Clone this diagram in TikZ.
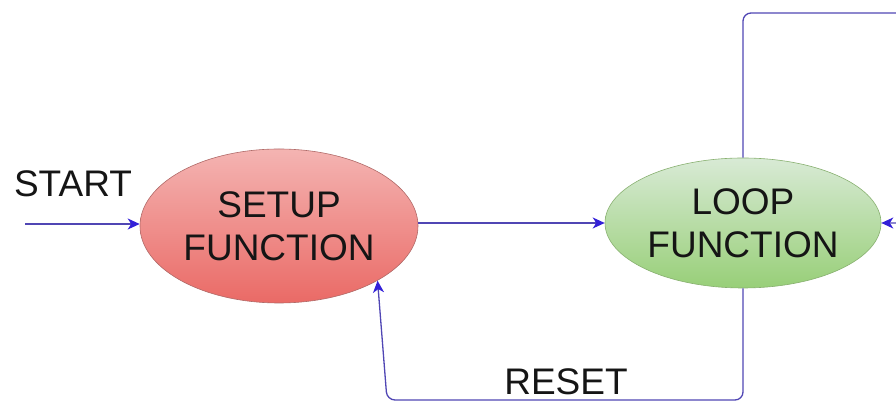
\documentclass[tikz,border=0pt]{standalone}
\usepackage{fontspec}
\setmainfont{Liberation Sans}
\usetikzlibrary{arrows.meta,shapes.geometric}
\definecolor{linec}{HTML}{5046B4}
\definecolor{arrowc}{HTML}{3320D8}
\definecolor{txtc}{HTML}{151515}
\definecolor{redtop}{HTML}{F4B4B2}
\definecolor{redbot}{HTML}{EA6A66}
\definecolor{redline}{HTML}{B06A68}
\definecolor{grntop}{HTML}{D8EAD5}
\definecolor{grnbot}{HTML}{98CF78}
\definecolor{grnline}{HTML}{88B070}
\tikzset{
  bigfont/.style={font=\fontsize{37}{43}\selectfont, text=txtc},
  state/.style={ellipse, inner sep=0pt, align=center, bigfont, line width=0.6pt},
  conn/.style={draw=linec, line width=1.3pt, rounded corners=8pt,
    -{Stealth[length=12pt,width=11pt,inset=3.5pt,color=arrowc]}},
  lbl/.style={bigfont, anchor=base, inner sep=0pt}
}
\begin{document}
\begin{tikzpicture}[x=1pt,y=1pt]
\useasboundingbox (0,0) rectangle (896,403);
\node[state, minimum width=278pt, minimum height=154pt,
  top color=redtop, bottom color=redbot, draw=redline] (setup) at (279,177) {SETUP\\FUNCTION};
\node[state, minimum width=276pt, minimum height=130pt,
  top color=grntop, bottom color=grnbot, draw=grnline] (loop) at (743,180) {LOOP\\FUNCTION};
\coordinate (startc) at (25,179);
\coordinate (far) at (975,390);
\coordinate (rb) at (387,3);
\node[lbl] (startlbl) at (73,206) {START};
\node[lbl] (resetlbl) at (566,8) {RESET};
\draw[conn] (startc) -- (startc -| setup.west);
\draw[conn] (setup.east |- loop.west) -- (loop.west);
\draw[conn] (loop.north) |- (far) -- (far |- loop.east) -- (loop.east);
\draw[conn] (loop.south) |- (rb) -- (setup.-29);
\end{tikzpicture}
\end{document}
